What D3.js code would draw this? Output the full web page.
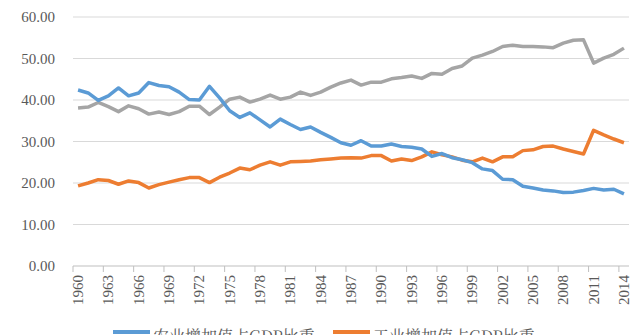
<!DOCTYPE html>
<html><head><meta charset="utf-8">
<script src="https://cdn.jsdelivr.net/npm/d3@7"></script>
<style>body{margin:0;background:#fff;} svg{display:block;}</style>
</head><body>
<svg id="c" width="640" height="335"></svg>
<script>
const years = d3.range(1960, 2015);
const agriculture = [42.4,41.7,39.9,41.0,42.9,41.0,41.7,44.2,43.5,43.2,41.9,40.1,40.0,43.3,40.5,37.4,35.8,36.9,35.2,33.5,35.4,34.1,32.9,33.5,32.2,31.0,29.7,29.1,30.2,28.9,28.9,29.4,28.8,28.6,28.2,26.4,27.1,26.1,25.6,24.9,23.4,23.0,20.9,20.8,19.2,18.8,18.3,18.1,17.7,17.8,18.2,18.7,18.3,18.5,17.4];
const industry = [19.3,20.0,20.8,20.6,19.7,20.5,20.1,18.8,19.6,20.2,20.8,21.3,21.3,20.1,21.4,22.4,23.6,23.2,24.3,25.1,24.3,25.1,25.2,25.3,25.6,25.8,26.0,26.1,26.0,26.6,26.6,25.3,25.8,25.4,26.3,27.5,26.8,26.3,25.5,25.1,26.0,25.1,26.3,26.3,27.8,28.0,28.8,28.9,28.2,27.6,27.0,32.7,31.6,30.6,29.7];
const services = [38.1,38.3,39.4,38.4,37.2,38.6,37.9,36.6,37.1,36.5,37.2,38.5,38.5,36.5,38.3,40.2,40.7,39.5,40.2,41.2,40.2,40.7,41.9,41.1,41.9,43.1,44.1,44.8,43.6,44.3,44.3,45.1,45.4,45.8,45.2,46.4,46.2,47.6,48.2,50.1,50.8,51.7,52.9,53.2,52.9,52.9,52.8,52.6,53.7,54.4,54.5,48.9,50.1,51.0,52.5];
const yTicks = [0,10,20,30,40,50,60];
const seriesNames = ["农业增加值占GDP比重","工业增加值占GDP比重","服务业增加值占GDP比重"];
const colors = ["#5b9bd5","#ed7d31","#a5a5a5"];

const svg = d3.select("#c");
const L = 73, R = 629, T = 17, B = 266;
const x = d3.scaleBand().domain(years).range([L, R]);
const y = d3.scaleLinear().domain([0, 60]).range([B, T]);
const font = "'Liberation Serif','Times New Roman',serif";

// gridlines
svg.append("g").selectAll("line").data(yTicks.filter(d => d > 0)).join("line")
  .attr("x1", L).attr("x2", R).attr("y1", d => y(d)).attr("y2", d => y(d))
  .attr("stroke", "#d9d9d9").attr("stroke-width", 1);

// y axis labels
const yAxis = d3.axisLeft(y).tickValues(yTicks).tickFormat(d3.format(".2f")).tickSize(0).tickPadding(18);
const gy = svg.append("g").attr("transform", `translate(${L},0)`).call(yAxis);
gy.select(".domain").remove();
gy.selectAll("text").attr("font-family", font).attr("font-size", 15).attr("fill", "#595959");

// x axis
const gx = svg.append("g").attr("transform", `translate(0,${B})`);
gx.append("line").attr("x1", L).attr("x2", R).attr("stroke", "#bfbfbf").attr("stroke-width", 1);
const tickYears = years.filter((d, i) => i % 3 === 0);
gx.selectAll("line.tk").data(tickYears).join("line").attr("class", "tk")
  .attr("x1", d => x(d)).attr("x2", d => x(d)).attr("y1", 0).attr("y2", 6)
  .attr("stroke", "#bfbfbf");
gx.selectAll("text").data(tickYears).join("text")
  .attr("transform", d => `translate(${x(d) + x.bandwidth() / 2 + 5},9) rotate(-90)`)
  .attr("text-anchor", "end")
  .attr("font-family", font).attr("font-size", 15).attr("fill", "#595959")
  .text(d => d);

// lines
const data = [agriculture, industry, services];
const line = d3.line().x((d, i) => x(years[i]) + x.bandwidth() / 2).y(d => y(d));
svg.append("g").selectAll("path").data([services, industry, agriculture]).join("path")
  .attr("d", line).attr("fill", "none")
  .attr("stroke", d => colors[data.indexOf(d)])
  .attr("stroke-width", 3.5).attr("stroke-linejoin", "round");

// legend (bottom, partially cut off)
const leg = svg.append("g");
const legItems = [{x: 113, i: 0}, {x: 333, i: 1}];
legItems.forEach(it => {
  leg.append("line").attr("x1", it.x).attr("x2", it.x + 37).attr("y1", 332).attr("y2", 332)
    .attr("stroke", colors[it.i]).attr("stroke-width", 4);
  leg.append("text").attr("x", it.x + 40).attr("y", 342)
    .attr("font-family", "'Noto Serif CJK SC','Noto Sans CJK SC',serif").attr("font-size", 16).attr("fill", "#595959")
    .text(seriesNames[it.i]);
});
</script>
</body></html>
